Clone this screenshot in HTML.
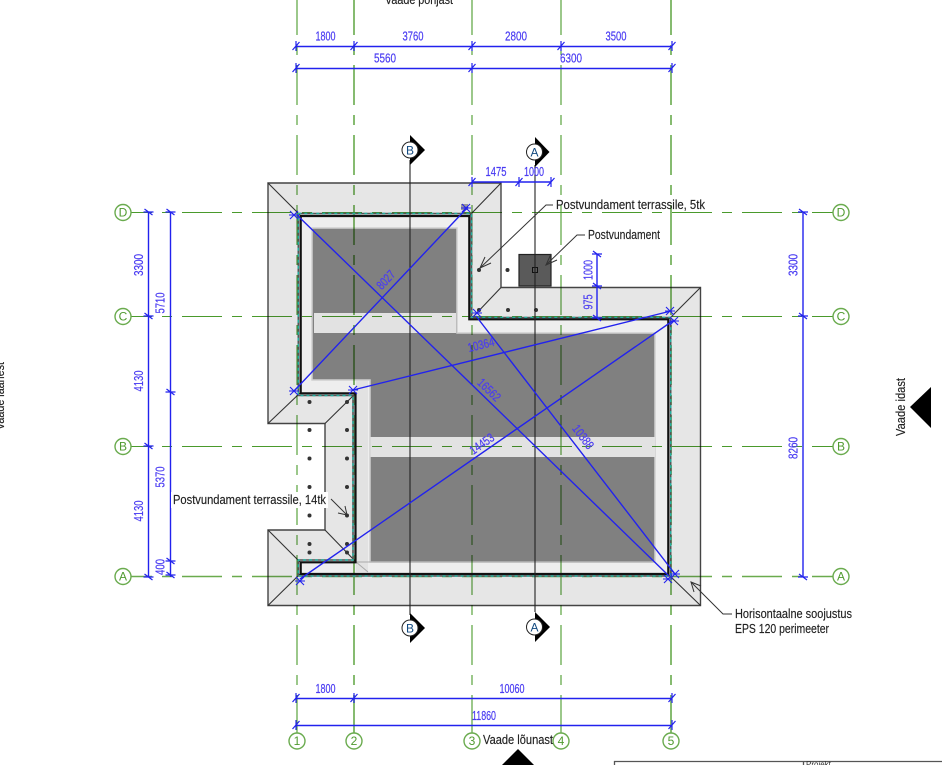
<!DOCTYPE html>
<html>
<head>
<meta charset="utf-8">
<style>
html,body{margin:0;padding:0;background:#fff;width:942px;height:765px;overflow:hidden}
svg{display:block;filter:blur(.35px)}
text{font-family:"Liberation Sans Narrow","Liberation Sans",sans-serif}
.d{fill:#4a3cf2;font-size:12.5px;text-anchor:middle;stroke:#4a3cf2;stroke-width:.2px}
.k{fill:#222;font-size:12.5px;stroke:#222;stroke-width:.15px}
.g{fill:#4f9a2f;font-size:12px;text-anchor:middle}
.gs{stroke:#6aab4e;stroke-width:1.4;fill:#fff}
.b{stroke:#2222ee;stroke-width:1.4;fill:none}
.h{stroke:#333;stroke-width:1.1;fill:none}
.l{stroke:#333;stroke-width:1;fill:none}
.v,.o{fill:none;stroke-dasharray:40 10 10 10}
.v{stroke-dashoffset:5}
.o{stroke-dashoffset:19}
.t{stroke:#4a9a2c;stroke-width:1.1}
.w{stroke:#86bb70;stroke-width:2}
</style>
</head>
<body>
<svg width="942" height="765" viewBox="0 0 942 765" xmlns="http://www.w3.org/2000/svg">
<defs>
<path id="th" d="M-3.5 4L3.5-4M0-5V5" stroke="#2222ee" stroke-width="1.2" fill="none"/>
<path id="tv" d="M-4-3L4 3M-5 0H5" stroke="#2222ee" stroke-width="1.2" fill="none"/>
<path id="tx" d="M-4-4L4 4M-4 4L4-4M-5 0H5" stroke="#2222ee" stroke-width="1.1" fill="none"/>
</defs>

<!-- slab -->
<path d="M268 183H501V287.5H700.5V605.5H268V530H325V423.5H268Z" fill="#e6e6e6" stroke="#444" stroke-width="1.4"/>
<!-- interior -->
<path d="M300 215H470V319H669V575H300V562H356V393H300Z" fill="#eeeeee"/>
<path d="M356 380H368V572H356Z" fill="#e2e2e2"/>
<path d="M312 228H457V333H655V562H370V380H312Z" fill="#808080" stroke="#cfcfcf" stroke-width="1.5"/>
<path d="M314 313H456V333H314Z" fill="#e2e2e2"/>
<path d="M370.5 437H655V457H370.5Z" fill="#e2e2e2"/>
<path d="M356 562H655M356 562L368 572" stroke="#aaa" stroke-width="1" fill="none"/>

<!-- hips -->
<path class="h" d="M268 183L300 215M501 183L470 215M501 287.5L472 318M700.5 287.5L669 319M700.5 605.5L669 575M268 605.5L300 574M268 530L300 562M325 530L356 562M325 423.5L356 393M268 423.5L300 393"/>

<!-- grid lines -->
<g style="mix-blend-mode:multiply">
<path class="v t" d="M297 0V733"/>
<path class="v w" d="M354 0V733"/>
<path class="v t" d="M472 0V733"/>
<path class="v t" d="M561 0V733"/>
<path class="v w" d="M671 0V733"/>
<path class="o t" d="M131 212.5H833"/>
<path class="o t" d="M131 316.5H833"/>
<path class="o t" d="M131 446.5H833"/>
<path class="o t" d="M131 576.5H833" style="stroke:#6aab4e;stroke-width:1.5"/>
</g>

<!-- walls -->
<path d="M298.3 213.5H471.5V317.5H670.7V576H298.3V560H353V395.5H298.3Z" fill="none" stroke="#555" stroke-width="1.6"/>
<path d="M298.3 213.5H471.5V317.5H670.7V576H298.3V560H353V395.5H298.3Z" fill="none" stroke="#22b0a0" stroke-width="1.4" stroke-dasharray="3 3"/>
<path d="M300.7 216H469.3V319.3H668.3V574H300.7V562.3H355.5V393.3H300.7Z" fill="none" stroke="#111" stroke-width="2.2"/>
<rect x="461" y="204" width="7" height="6" fill="#999"/>

<!-- post -->
<rect x="519" y="254.5" width="32" height="31.5" fill="#5a5a5a" stroke="#222" stroke-width="1.2"/>
<rect x="532.5" y="267.5" width="5" height="5" fill="none" stroke="#111"/>

<!-- dots -->
<g fill="#333">
<circle cx="479" cy="270" r="2"/><circle cx="507.5" cy="270" r="2"/>
<circle cx="479" cy="310" r="2"/><circle cx="508" cy="310" r="2"/><circle cx="536" cy="310" r="2"/>
<circle cx="309.5" cy="402" r="2"/><circle cx="309.5" cy="430" r="2"/><circle cx="309.5" cy="458.5" r="2"/><circle cx="309.5" cy="487" r="2"/><circle cx="309.5" cy="515.5" r="2"/><circle cx="309.5" cy="544" r="2"/><circle cx="309.5" cy="552.5" r="2"/>
<circle cx="347" cy="402" r="2"/><circle cx="347" cy="430" r="2"/><circle cx="347" cy="458.5" r="2"/><circle cx="347" cy="487" r="2"/><circle cx="347" cy="515.5" r="2"/><circle cx="347" cy="544" r="2"/><circle cx="347" cy="552.5" r="2"/>
</g>

<!-- section lines -->
<path d="M410 160V615M535 165V612" stroke="#222" stroke-width="1.1" fill="none"/>
<path d="M410 135L425 150L410 165Z" fill="#000"/>
<circle cx="410" cy="150" r="8" fill="#fff" stroke="#222"/>
<text x="410" y="154.5" style="font-size:12px;text-anchor:middle;fill:#124a80">B</text>
<path d="M535 137L549.5 152L535 167Z" fill="#000"/>
<circle cx="534.5" cy="152" r="8" fill="#fff" stroke="#222"/>
<text x="534.5" y="156.5" style="font-size:12px;text-anchor:middle;fill:#124a80">A</text>
<path d="M410 613L425 628L410 643Z" fill="#000"/>
<circle cx="410" cy="628" r="8" fill="#fff" stroke="#222"/>
<text x="410" y="632.5" style="font-size:12px;text-anchor:middle;fill:#124a80">B</text>
<path d="M535 612L550 627L535 642Z" fill="#000"/>
<circle cx="534.5" cy="627" r="8" fill="#fff" stroke="#222"/>
<text x="534.5" y="631.5" style="font-size:12px;text-anchor:middle;fill:#124a80">A</text>

<!-- blue diagonals -->
<g class="b">
<path d="M294 391L468 207"/>
<path d="M297 215L669 576"/>
<path d="M353 390L671 311"/>
<path d="M476 316L675 574"/>
<path d="M300 579L674 320"/>
</g>
<use href="#tx" x="294" y="391"/><use href="#tx" x="466" y="208"/>
<use href="#tx" x="294" y="215"/><use href="#tx" x="668" y="579"/>
<use href="#tx" x="353" y="390"/><use href="#tx" x="670" y="311"/>
<use href="#tx" x="477" y="313"/><use href="#tx" x="675" y="574"/>
<use href="#tx" x="300" y="581"/><use href="#tx" x="674" y="321"/>
<text class="d" transform="translate(386 280) rotate(-47)" y="4" textLength="21" lengthAdjust="spacingAndGlyphs">8027</text>
<text class="d" transform="translate(481 345) rotate(-14)" y="4" textLength="27" lengthAdjust="spacingAndGlyphs">10364</text>
<text class="d" transform="translate(489 390) rotate(44)" y="4" textLength="27" lengthAdjust="spacingAndGlyphs">16562</text>
<text class="d" transform="translate(583 437) rotate(53)" y="4" textLength="27" lengthAdjust="spacingAndGlyphs">10388</text>
<text class="d" transform="translate(482 444) rotate(-35)" y="4" textLength="27" lengthAdjust="spacingAndGlyphs">14453</text>

<!-- dimensions -->
<g class="b">
<path d="M296 46.5H672M296 68.5H672M296 698.5H672M296 725.5H672M472 182H551M597 254V318M148.5 212V577M170.5 212V577M803 212V577"/>
</g>
<use href="#th" x="296" y="46"/><use href="#th" x="354" y="46"/><use href="#th" x="472" y="46"/><use href="#th" x="561" y="46"/><use href="#th" x="672" y="46"/>
<use href="#th" x="296" y="68"/><use href="#th" x="472" y="68"/><use href="#th" x="672" y="68"/>
<use href="#th" x="296" y="698"/><use href="#th" x="354" y="698"/><use href="#th" x="672" y="698"/>
<use href="#th" x="296" y="725"/><use href="#th" x="672" y="725"/>
<use href="#th" x="472" y="182"/><use href="#th" x="519" y="182"/><use href="#th" x="551" y="182"/>
<use href="#tv" x="597" y="254"/><use href="#tv" x="597" y="286"/><use href="#tv" x="597" y="318"/>
<use href="#tv" x="148.5" y="212"/><use href="#tv" x="148.5" y="316"/><use href="#tv" x="148.5" y="446"/><use href="#tv" x="148.5" y="577"/>
<use href="#tv" x="170.5" y="212"/><use href="#tv" x="170.5" y="392"/><use href="#tv" x="170.5" y="561"/><use href="#tv" x="170.5" y="575"/>
<use href="#tv" x="803" y="212"/><use href="#tv" x="803" y="316"/><use href="#tv" x="803" y="577"/>

<text class="d" x="325.5" y="40.5" textLength="20" lengthAdjust="spacingAndGlyphs">1800</text>
<text class="d" x="413" y="40.5" textLength="21" lengthAdjust="spacingAndGlyphs">3760</text>
<text class="d" x="516" y="40.5" textLength="22" lengthAdjust="spacingAndGlyphs">2800</text>
<text class="d" x="616" y="40.5" textLength="21" lengthAdjust="spacingAndGlyphs">3500</text>
<text class="d" x="385" y="62.5" textLength="22" lengthAdjust="spacingAndGlyphs">5560</text>
<text class="d" x="571" y="62.5" textLength="22" lengthAdjust="spacingAndGlyphs">6300</text>
<text class="d" x="496" y="176" textLength="21" lengthAdjust="spacingAndGlyphs">1475</text>
<text class="d" x="534" y="176" textLength="20" lengthAdjust="spacingAndGlyphs">1000</text>
<text class="d" x="325.5" y="693" textLength="20" lengthAdjust="spacingAndGlyphs">1800</text>
<text class="d" x="512" y="693" textLength="25" lengthAdjust="spacingAndGlyphs">10060</text>
<text class="d" x="484" y="720" textLength="24" lengthAdjust="spacingAndGlyphs">11860</text>
<text class="d" transform="translate(143 265) rotate(-90)" textLength="22" lengthAdjust="spacingAndGlyphs">3300</text>
<text class="d" transform="translate(143 381) rotate(-90)" textLength="21" lengthAdjust="spacingAndGlyphs">4130</text>
<text class="d" transform="translate(143 511) rotate(-90)" textLength="21" lengthAdjust="spacingAndGlyphs">4130</text>
<text class="d" transform="translate(164.5 303) rotate(-90)" textLength="21" lengthAdjust="spacingAndGlyphs">5710</text>
<text class="d" transform="translate(164.5 477) rotate(-90)" textLength="21" lengthAdjust="spacingAndGlyphs">5370</text>
<text class="d" transform="translate(164.5 567) rotate(-90)" textLength="16" lengthAdjust="spacingAndGlyphs">400</text>
<text class="d" transform="translate(797.5 265) rotate(-90)" textLength="22" lengthAdjust="spacingAndGlyphs">3300</text>
<text class="d" transform="translate(797.5 448) rotate(-90)" textLength="22" lengthAdjust="spacingAndGlyphs">8260</text>
<text class="d" transform="translate(592.5 270) rotate(-90)" textLength="20" lengthAdjust="spacingAndGlyphs">1000</text>
<text class="d" transform="translate(592.5 302) rotate(-90)" textLength="15" lengthAdjust="spacingAndGlyphs">975</text>

<!-- grid bubbles -->
<g class="gs">
<circle cx="123" cy="212.5" r="8"/><circle cx="123" cy="316.5" r="8"/><circle cx="123" cy="446.5" r="8"/><circle cx="123" cy="576.5" r="8"/>
<circle cx="841" cy="212.5" r="8"/><circle cx="841" cy="316.5" r="8"/><circle cx="841" cy="446.5" r="8"/><circle cx="841" cy="576.5" r="8"/>
<circle cx="297" cy="741" r="8"/><circle cx="354" cy="741" r="8"/><circle cx="472" cy="741" r="8"/><circle cx="561" cy="741" r="8"/><circle cx="671" cy="741" r="8"/>
</g>
<g class="g">
<text x="123" y="216.5">D</text><text x="123" y="320.5">C</text><text x="123" y="450.5">B</text><text x="123" y="580.5">A</text>
<text x="841" y="216.5">D</text><text x="841" y="320.5">C</text><text x="841" y="450.5">B</text><text x="841" y="580.5">A</text>
<text x="297" y="745">1</text><text x="354" y="745">2</text><text x="472" y="745">3</text><text x="561" y="745">4</text><text x="671" y="745">5</text>
</g>

<!-- leaders -->
<g class="l">
<path d="M553 205H546L480 268"/><path d="M485 257L480 268L491 263"/>
<path d="M585 235H577L546 265"/><path d="M551 254L546 265L557 260"/>
<path d="M331 499L347 515"/><path d="M338 513L347 515L345 506"/>
<path d="M732 614H723L691 582"/><path d="M694 592L691 582L701 586"/>
</g>
<rect x="171" y="492" width="157" height="16" fill="#fff"/>
<text class="k" x="173" y="504" textLength="153" lengthAdjust="spacingAndGlyphs">Postvundament terrassile, 14tk</text>
<text class="k" x="556" y="209" textLength="149" lengthAdjust="spacingAndGlyphs">Postvundament terrassile, 5tk</text>
<text class="k" x="588" y="239" textLength="72" lengthAdjust="spacingAndGlyphs">Postvundament</text>
<text class="k" x="735" y="618" textLength="117" lengthAdjust="spacingAndGlyphs">Horisontaalne soojustus</text>
<text class="k" x="735" y="633" textLength="94" lengthAdjust="spacingAndGlyphs">EPS 120 perimeeter</text>

<!-- views -->
<text class="k" x="385" y="4" textLength="68" lengthAdjust="spacingAndGlyphs">Vaade põhjast</text>
<text class="k" x="483" y="744" textLength="70" lengthAdjust="spacingAndGlyphs">Vaade lõunast</text>
<path d="M518 749L502 765H534Z" fill="#000"/>
<text class="k" transform="translate(905 436) rotate(-90)" textLength="58" lengthAdjust="spacingAndGlyphs">Vaade idast</text>
<path d="M910 407L931 387V428Z" fill="#000"/>
<text class="k" transform="translate(4 430) rotate(-90)" textLength="68" lengthAdjust="spacingAndGlyphs">Vaade läänest</text>

<!-- title block -->
<path d="M614.5 765V761.5H942M803.5 761.5V765" fill="none" stroke="#555" stroke-width="1.3"/>
<text x="806" y="767" style="font-size:8px;fill:#333">Projekt</text>
</svg>
</body>
</html>
